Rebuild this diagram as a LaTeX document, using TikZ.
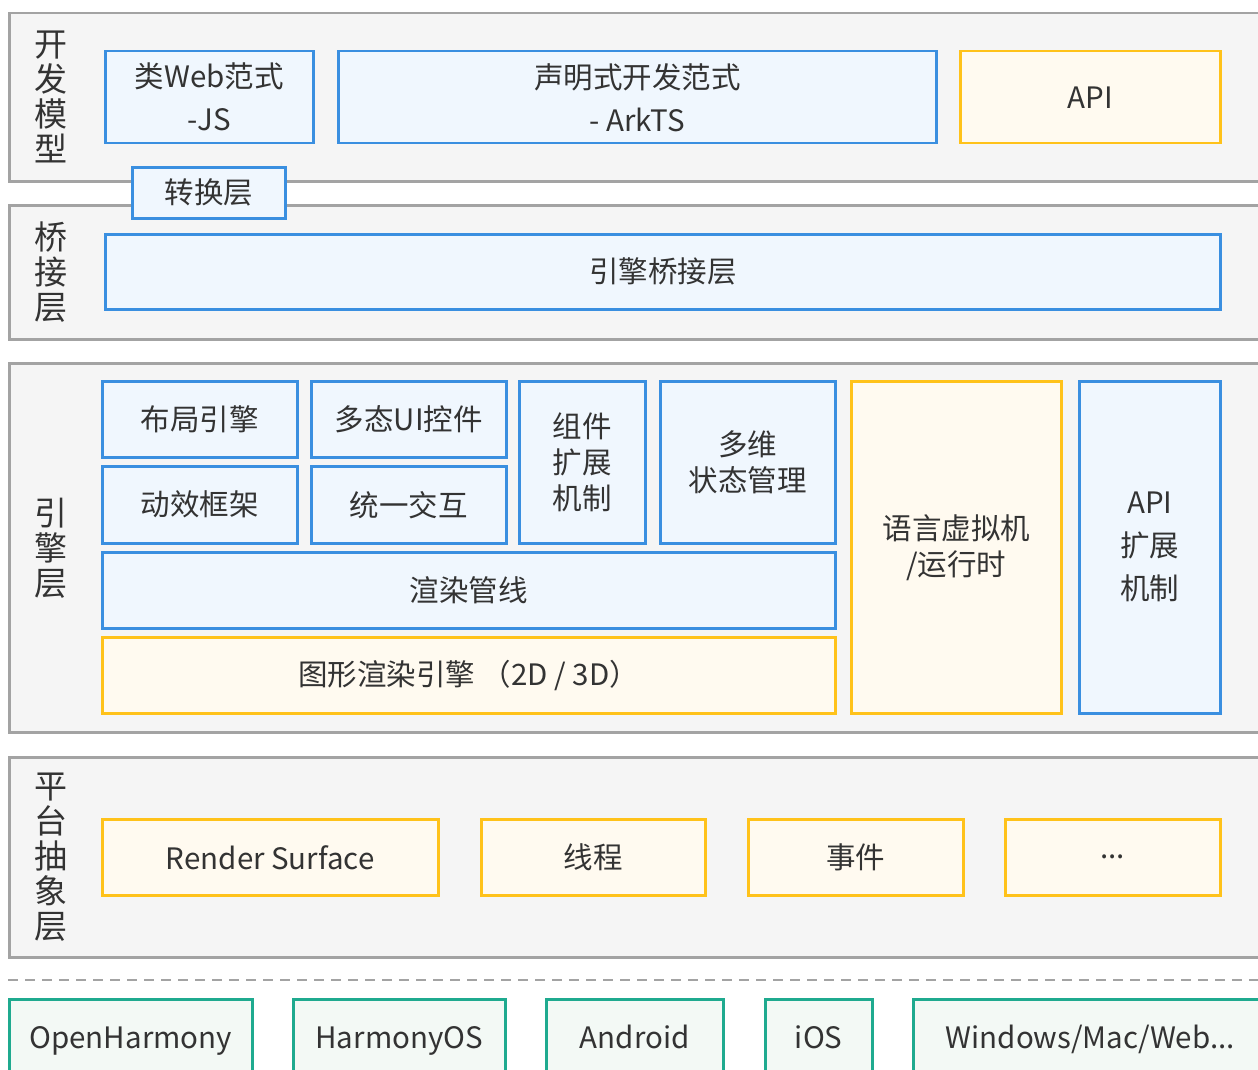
\documentclass[tikz,border=0pt]{standalone}
\usepackage{fontspec}
\setmainfont{Noto Sans CJK SC}
\usetikzlibrary{positioning}
\definecolor{layerfill}{HTML}{F5F5F5}
\definecolor{layerline}{HTML}{A3A3A3}
\definecolor{bluefill}{HTML}{F0F7FE}
\definecolor{blueline}{HTML}{3A8FE0}
\definecolor{yellowfill}{HTML}{FFFAF0}
\definecolor{yellowline}{HTML}{FFC21A}
\definecolor{greenfill}{HTML}{F3F9F5}
\definecolor{greenline}{HTML}{1FAA8F}
\definecolor{textgray}{HTML}{333333}
\tikzset {
  boxsize/.style 2 args = {
    minimum width = #1pt,
    minimum height = #2pt
  },
  % grey band of one layer
  layer/.style = {
    rectangle,
    draw = layerline,
    fill = layerfill,
    line width = 2.5pt,
    inner sep = 0,
    anchor = north west
  },
  box/.style = {
    rectangle,
    line width = 2.5pt,
    inner sep = 0,
    anchor = north west,
    align = center,
    text = textgray,
    font = \fontsize{29.5}{36}\selectfont
  },
  % blue module
  bbox/.style = {
    box,
    draw = blueline,
    fill = bluefill
  },
  % yellow module
  ybox/.style = {
    box,
    draw = yellowline,
    fill = yellowfill
  },
  % green platform
  gbox/.style = {
    box,
    draw = greenline,
    fill = greenfill,
    text height = 22pt,
    text depth = 6pt
  },
  side/.style = {
    align = center,
    text = textgray,
    inner sep = 0,
    font = \fontsize{33}{35}\selectfont
  },
  sep/.style = {
    draw = layerline,
    line width = 2pt,
    dash pattern = on 10pt off 7pt
  }
}

\begin{document}
\begin{tikzpicture}[x=1pt, y=-1pt]
    \clip (0,0) rectangle (1258,1070);

    % layers
    \node[layer, boxsize={1300}{168}] (dev-layer) at (8,12) {};
    \node[layer, boxsize={1300}{134}] (bridge-layer) at (8,204) {};
    \node[layer, boxsize={1300}{369}] (engine-layer) at (8,362) {};
    \node[layer, boxsize={1300}{200}] (platform-layer) at (8,756) {};
    \node[side] (dev-title) at (51,97) {开\\发\\模\\型};
    \node[side] (bridge-title) at (51,272) {桥\\接\\层};
    \node[side] (engine-title) at (51,548) {引\\擎\\层};
    \node[side] (platform-title) at (51,857) {平\\台\\抽\\象\\层};

    % development model
    \node[bbox, boxsize={208}{92}, font=\fontsize{29.5}{43}\selectfont] (web-js) at (104,50) {类Web范式\\-JS};
    \node[bbox, boxsize={598}{92}, font=\fontsize{29.5}{43}\selectfont] (arkts) at (337,50) {声明式开发范式\\- ArkTS};
    \node[ybox, boxsize={260}{92}] (api) at (959,50) {API};

    % bridge
    \node[bbox, boxsize={1115}{75}] (bridge) at (104,233) {引擎桥接层};

    % engine
    \node[bbox, boxsize={195}{76}] (layout) at (101,380) {布局引擎};
    \node[bbox, boxsize={195}{76}] (poly-ui) at (310,380) {多态UI控件};
    \node[bbox, boxsize={195}{77}] (animation) at (101,465) {动效框架};
    \node[bbox, boxsize={195}{77}] (interaction) at (310,465) {统一交互};
    \node[bbox, boxsize={126}{162}] (comp-ext) at (518,380) {组件\\扩展\\机制};
    \node[bbox, boxsize={175}{162}] (state) at (659,380) {多维\\状态管理};
    \node[bbox, boxsize={733}{76}] (pipeline) at (101,551) {渲染管线};
    \node[ybox, boxsize={733}{76}] (graphics) at (101,636) {图形渲染引擎 （2D / 3D）};
    \node[ybox, boxsize={210}{332}] (vm) at (850,380) {语言虚拟机\\/运行时};
    \node[bbox, boxsize={141}{332}, font=\fontsize{29.5}{43}\selectfont] (api-ext) at (1078,380) {API\\扩展\\机制};

    % platform abstraction
    \node[ybox, boxsize={336}{76}] (surface) at (101,818) {Render Surface};
    \node[ybox, boxsize={224}{76}] (thread) at (480,818) {线程};
    \node[ybox, boxsize={215}{76}] (event) at (747,818) {事件};
    \node[ybox, boxsize={215}{76}] (more) at (1004,818) {...};

    % conversion sits across two layers
    \node[bbox, boxsize={153}{51}] (convert) at (131,166) {转换层};

    % platforms
    \coordinate (sep-left) at (8,980);
    \coordinate (sep-right) at (1258,980);
    \draw[sep] (sep-left) -- (sep-right);
    \node[gbox, boxsize={243}{82}] (openharmony) at (8,998) {OpenHarmony};
    \node[gbox, boxsize={212}{82}] (harmonyos) at (292,998) {HarmonyOS};
    \node[gbox, boxsize={177}{82}] (android) at (545,998) {Android};
    \node[gbox, boxsize={107}{82}] (ios) at (764,998) {iOS};
    \node[gbox, boxsize={354}{82}] (desktop) at (912,998) {Windows/Mac/Web...};
  \end{tikzpicture}
\end{document}
